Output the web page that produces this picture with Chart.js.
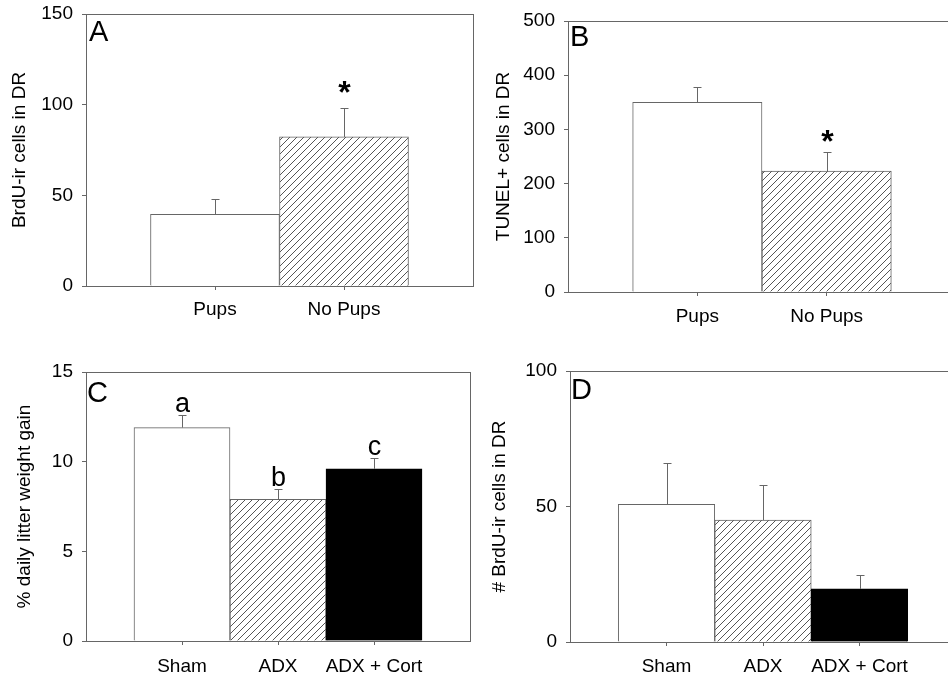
<!DOCTYPE html>
<html>
<head>
<meta charset="utf-8">
<script src="https://cdn.jsdelivr.net/npm/chart.js@4.4.1/dist/chart.umd.min.js"></script>
<style>
  html, body { margin: 0; padding: 0; background: #fff; width: 948px; height: 678px; overflow: hidden; }
  canvas { position: absolute; }
</style>
</head>
<body>
<canvas id="chartA" width="474" height="339" style="left:0;top:0"></canvas>
<canvas id="chartB" width="482" height="339" style="left:474px;top:0"></canvas>
<canvas id="chartC" width="474" height="339" style="left:0;top:339px"></canvas>
<canvas id="chartD" width="482" height="339" style="left:474px;top:339px"></canvas>
<script>
// panel A - BrdU, pups vs no pups
const aLabels = ['Pups', 'No Pups'];
const aMeans = [39.5, 82.2];
const aErrors = [8.3, 16.1];
const aMarks = ['', '*'];
const aTicks = [0, 50, 100, 150];

// panel B - TUNEL
const bLabels = ['Pups', 'No Pups'];
const bMeans = [350, 223];
const bErrors = [28, 35];
const bMarks = ['', '*'];
const bTicks = [0, 100, 200, 300, 400, 500];

// panel C - litter weight gain
const cLabels = ['Sham', 'ADX', 'ADX + Cort'];
const cMeans = [11.9, 7.9, 9.6];
const cErrors = [0.7, 0.55, 0.6];
const cMarks = ['a', 'b', 'c'];
const cTicks = [0, 5, 10, 15];

// panel D - BrdU, adrenalectomy
const dLabels = ['Sham', 'ADX', 'ADX + Cort'];
const dMeans = [50.8, 45.0, 19.6];
const dErrors = [15.4, 13.0, 5.3];
const dMarks = ['', '', ''];
const dTicks = [0, 50, 100];

Chart.defaults.font.family = '"Liberation Sans", Arial, sans-serif';
Chart.defaults.font.size = 19;
Chart.defaults.color = '#000';

const lineGrey = '#666';

function makeHatch() {
  const c = document.createElement('canvas');
  c.width = 7;
  c.height = 7;
  const g = c.getContext('2d');
  g.fillStyle = '#fff';
  g.fillRect(0, 0, 7, 7);
  g.strokeStyle = '#555';
  g.lineWidth = 1;
  g.beginPath();
  g.moveTo(-1, 8); g.lineTo(8, -1);
  g.moveTo(-1, 1); g.lineTo(1, -1);
  g.moveTo(6, 8); g.lineTo(8, 6);
  g.stroke();
  return g.createPattern(c, 'repeat');
}
const hatch = makeHatch();

// scale padding from tick labels would shrink the plot box, drop it
function noPad(s) {
  s.paddingTop = 0;
  s.paddingBottom = 0;
  s.paddingLeft = 0;
  s.paddingRight = 0;
}

// error bars, letters, frame and panel letter
function panelPlugin(p) {
  return {
    id: 'panel' + p.letter,
    afterDatasetsDraw(chart) {
      const { ctx, chartArea: a, scales: { x, y } } = chart;
      ctx.save();
      ctx.strokeStyle = lineGrey;
      ctx.lineWidth = 1;
      ctx.fillStyle = '#000';
      p.means.forEach((m, i) => {
        const px = Math.round(x.getPixelForValue(i + 1)) + 0.5;
        const top = y.getPixelForValue(m);
        const end = Math.round(y.getPixelForValue(m + p.errors[i])) + 0.5;
        ctx.beginPath();
        ctx.moveTo(px, top);
        ctx.lineTo(px, end);
        ctx.moveTo(px - 4, end);
        ctx.lineTo(px + 4, end);
        ctx.stroke();
        if (p.marks[i]) {
          ctx.font = p.markFont;
          ctx.textAlign = 'center';
          ctx.textBaseline = 'alphabetic';
          ctx.fillText(p.marks[i], px, end - p.markGap);
        }
      });
      ctx.strokeRect(Math.round(a.left) + 0.5, Math.round(a.top) + 0.5,
        Math.round(a.right - a.left), Math.round(a.bottom - a.top));
      ctx.font = '29px "Liberation Sans", Arial, sans-serif';
      ctx.textAlign = 'left';
      ctx.textBaseline = 'alphabetic';
      ctx.fillText(p.letter, a.left + p.letterDx, a.top + p.letterDy);
      ctx.restore();
    }
  };
}

function makePanel(id, p) {
  const labels = ['', ...p.labels, ''];
  const data = [null, ...p.means, null];
  const fills = ['#fff', ...p.fills, '#fff'];
  const borders = ['#000', ...p.fills.map(f => f === '#000' ? '#000' : lineGrey), '#000'];
  new Chart(document.getElementById(id), {
    type: 'bar',
    data: {
      labels: labels,
      datasets: [{
        data: data,
        backgroundColor: fills,
        borderColor: borders,
        borderWidth: 1,
        barPercentage: 1,
        categoryPercentage: 1
      }]
    },
    options: {
      responsive: false,
      animation: false,
      events: [],
      layout: { padding: p.padding },
      plugins: { legend: { display: false }, tooltip: { enabled: false } },
      scales: {
        x: {
          offset: false,
          grid: {
            display: true,
            offset: false,
            drawOnChartArea: false,
            drawTicks: true,
            tickLength: 4,
            color: c => labels[c.index] ? lineGrey : 'rgba(0,0,0,0)'
          },
          border: { color: lineGrey },
          ticks: { autoSkip: false, maxRotation: 0, padding: p.xPad },
          afterFit: s => { s.height = p.xHeight; noPad(s); }
        },
        y: {
          min: p.ticks[0],
          max: p.ticks[p.ticks.length - 1],
          afterBuildTicks: s => { s.ticks = p.ticks.map(v => ({ value: v })); },
          grid: {
            display: true,
            drawOnChartArea: false,
            drawTicks: true,
            tickLength: 4,
            color: lineGrey
          },
          border: { color: lineGrey },
          ticks: { padding: 9 },
          title: {
            display: true,
            text: p.title,
            font: { size: 19 },
            padding: { top: p.titlePad, bottom: 0 }
          },
          afterFit: s => { s.width = p.yWidth; noPad(s); }
        }
      }
    },
    plugins: [panelPlugin(p)]
  });
}

makePanel('chartA', {
  labels: aLabels, means: aMeans, errors: aErrors, marks: aMarks, ticks: aTicks,
  fills: ['#fff', hatch], title: 'BrdU-ir cells in DR', letter: 'A',
  padding: { top: 14, right: 1, left: 0, bottom: 0 }, yWidth: 86, xHeight: 53,
  xPad: 8, titlePad: 8, letterDx: 3, letterDy: 27,
  markFont: 'bold 32px "Liberation Sans", Arial, sans-serif', markGap: 6
});

makePanel('chartB', {
  labels: bLabels, means: bMeans, errors: bErrors, marks: bMarks, ticks: bTicks,
  fills: ['#fff', hatch], title: 'TUNEL+ cells in DR', letter: 'B',
  padding: { top: 21, right: 0, left: 0, bottom: 0 }, yWidth: 94, xHeight: 47,
  xPad: 9, titlePad: 18, letterDx: 2, letterDy: 25,
  markFont: 'bold 32px "Liberation Sans", Arial, sans-serif', markGap: 1
});

makePanel('chartC', {
  labels: cLabels, means: cMeans, errors: cErrors, marks: cMarks, ticks: cTicks,
  fills: ['#fff', hatch, '#000'], title: '% daily litter weight gain', letter: 'C',
  padding: { top: 33, right: 4, left: 0, bottom: 0 }, yWidth: 86, xHeight: 37,
  xPad: 10, titlePad: 13, letterDx: 1, letterDy: 30,
  markFont: '27px "Liberation Sans", Arial, sans-serif', markGap: 4
});

makePanel('chartD', {
  labels: dLabels, means: dMeans, errors: dErrors, marks: dMarks, ticks: dTicks,
  fills: ['#fff', hatch, '#000'], title: '# BrdU-ir cells in DR', letter: 'D',
  padding: { top: 32, right: 0, left: 0, bottom: 0 }, yWidth: 96, xHeight: 36,
  xPad: 9, titlePad: 14, letterDx: 1, letterDy: 28,
  markFont: '27px "Liberation Sans", Arial, sans-serif', markGap: 4
});
</script>
</body>
</html>
